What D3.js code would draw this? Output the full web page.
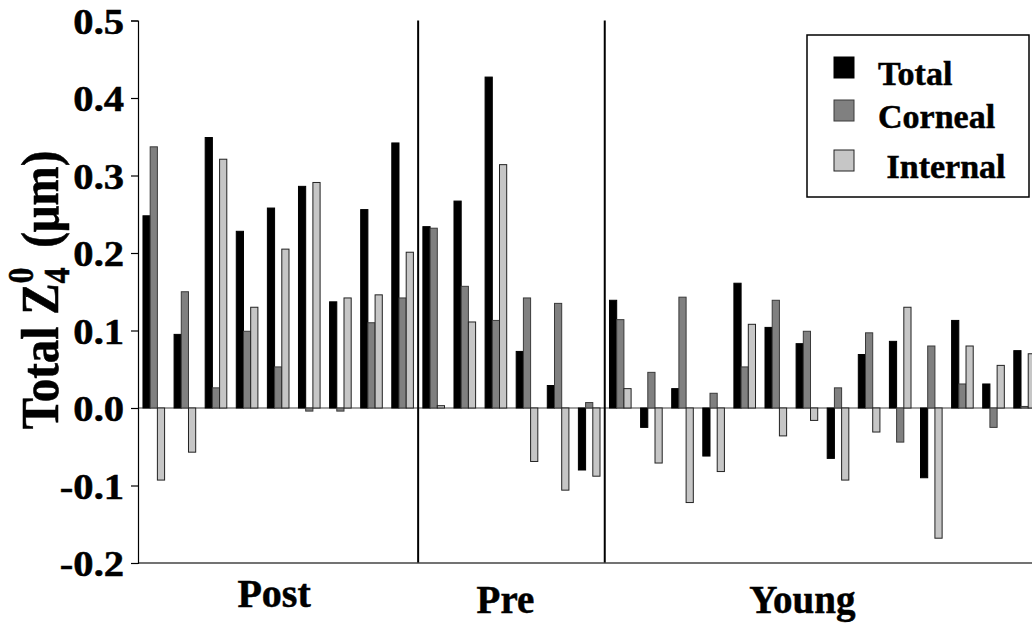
<!DOCTYPE html>
<html>
<head>
<meta charset="utf-8">
<script src="https://cdn.jsdelivr.net/npm/d3@7.9.0/dist/d3.min.js"></script>
<style>
  body { margin: 0; background: #fff; }
  text { font-family: "Liberation Serif", "Times New Roman", serif; font-weight: bold; fill: #000; stroke: #000; stroke-width: 0.5px; }
</style>
</head>
<body>
<div id="chart"></div>
<script>
// groups per subject set (Post: 9, Pre: 6, Young: 14)
const sections = ["Post", "Pre", "Young"];
const sectionSizes = [9, 6, 14];
const series = ["Total", "Corneal", "Internal"];
const yTicks = [-0.2, -0.1, 0.0, 0.1, 0.2, 0.3, 0.4, 0.5];

const totalVals = [
  0.248, 0.095, 0.349, 0.228, 0.258, 0.286, 0.137, 0.256, 0.342,
  0.234, 0.267, 0.427, 0.073, 0.029, -0.080,
  0.139, -0.025, 0.025, -0.062, 0.161, 0.104, 0.083, -0.065, 0.069, 0.086, -0.090, 0.113, 0.031, 0.074
];
const cornealVals = [
  0.337, 0.150, 0.026, 0.099, 0.053, -0.004, -0.004, 0.110, 0.142,
  0.232, 0.157, 0.113, 0.142, 0.135, 0.007,
  0.114, 0.046, 0.143, 0.019, 0.053, 0.139, 0.099, 0.026, 0.097, -0.044, 0.080, 0.031, -0.025, 0.002
];
const internalVals = [
  -0.093, -0.057, 0.321, 0.130, 0.205, 0.291, 0.142, 0.146, 0.201,
  0.003, 0.111, 0.314, -0.069, -0.106, -0.088,
  0.025, -0.071, -0.122, -0.082, 0.108, -0.036, -0.016, -0.093, -0.031, 0.130, -0.168, 0.080, 0.055, 0.070
];

const W = 1032, H = 624;
const svg = d3.select("#chart").append("svg")
  .attr("width", W)
  .attr("height", H);

svg.append("rect").attr("width", W).attr("height", H).attr("fill", "#fff");

const nGroups = totalVals.length;
const groupIdx = d3.range(nGroups);

const x = d3.scaleBand()
  .domain(groupIdx)
  .range([138, 1040.4])
  .paddingInner(0.305)
  .paddingOuter(0.16);

const xs = d3.scaleBand()
  .domain(series)
  .range([0, x.bandwidth()]);

const y = d3.scaleLinear()
  .domain([-0.2, 0.5])
  .range([563, 20.5]);

const color = d3.scaleOrdinal()
  .domain(series)
  .range(["#000000", "#808080", "#c6c6c6"]);
const strokeCol = d3.scaleOrdinal()
  .domain(series)
  .range(["#000000", "#3a3a3a", "#222222"]);

const rows = groupIdx.map(i => ({
  i,
  vals: [
    { s: "Total", v: totalVals[i] },
    { s: "Corneal", v: cornealVals[i] },
    { s: "Internal", v: internalVals[i] }
  ]
}));

// zero line
svg.append("line")
  .attr("x1", 138).attr("x2", W)
  .attr("y1", y(0)).attr("y2", y(0))
  .attr("stroke", "#808080")
  .attr("stroke-width", 1.5);

// bars
const g = svg.selectAll(".grp")
  .data(rows)
  .enter().append("g")
    .attr("class", "grp")
    .attr("transform", d => `translate(${x(d.i)},0)`);

g.selectAll("rect")
  .data(d => d.vals)
  .enter().append("rect")
    .attr("x", d => xs(d.s))
    .attr("width", xs.bandwidth())
    .attr("y", d => y(Math.max(0, d.v)))
    .attr("height", d => Math.abs(y(d.v) - y(0)))
    .attr("fill", d => color(d.s))
    .attr("stroke", d => strokeCol(d.s))
    .attr("stroke-width", 1);

// section dividers
let start = 0;
const gap = x.step() - x.bandwidth();
const bounds = [];
sectionSizes.forEach((n, k) => {
  const left = k === 0 ? 138 : x(start) - gap / 2;
  const end = start + n;
  const right = end < nGroups ? x(end) - gap / 2 : 1040;
  bounds.push([left, right]);
  if (k > 0) {
    svg.append("line")
      .attr("x1", left).attr("x2", left)
      .attr("y1", y(0.5)).attr("y2", y(-0.2))
      .attr("stroke", "#000")
      .attr("stroke-width", 2);
  }
  start = end;
});

// bottom axis line
svg.append("line")
  .attr("x1", 138).attr("x2", W)
  .attr("y1", y(-0.2)).attr("y2", y(-0.2))
  .attr("stroke", "#444")
  .attr("stroke-width", 1.5);

// y axis
const yAxis = svg.append("g")
  .attr("transform", "translate(138,0)")
  .call(d3.axisLeft(y)
    .tickValues(yTicks)
    .tickFormat(d => d.toFixed(1))
    .tickSize(7)
    .tickPadding(5));
yAxis.select(".domain").attr("stroke", "#000").attr("stroke-width", 1.2);
yAxis.selectAll(".tick line").attr("stroke", "#000").attr("stroke-width", 1.2);
yAxis.selectAll("text")
  .attr("fill", "#000")
  .attr("dy", "0.36em")
  .attr("transform", "scale(1.16,1)")
  .style("font-size", "35px")
  .style("font-family", "'Liberation Serif', serif")
  .style("font-weight", "bold");

// section labels
const labelDx = [-4, -6, -20];
const labelY = [607, 613, 613];
const labelSize = [40, 39, 39];
sections.forEach((s, k) => {
  svg.append("text")
    .attr("x", (bounds[k][0] + bounds[k][1]) / 2 + labelDx[k])
    .attr("y", labelY[k])
    .attr("text-anchor", "middle")
    .style("font-size", labelSize[k] + "px")
    .text(s);
});

// y axis title
const yt = svg.append("text")
  .attr("transform", "translate(58,290) scale(1.14,1) rotate(-90)")
  .attr("text-anchor", "middle")
  .style("font-size", "47px");
yt.append("tspan").text("Total Z");
yt.append("tspan").attr("dy", 10).style("font-size", "32px").text("4");
yt.append("tspan").attr("dx", -16).attr("dy", -32).style("font-size", "32px").text("0");
yt.append("tspan").attr("dx", 8).attr("dy", 22).text(" (μm)");

// legend
const legend = svg.append("g");
legend.append("rect")
  .attr("x", 807).attr("y", 35)
  .attr("width", 222).attr("height", 162)
  .attr("fill", "#fff")
  .attr("stroke", "#000")
  .attr("stroke-width", 1.5);

const legY = [67, 110, 160];
const legLabels = ["Total", "Corneal", " Internal"];
series.forEach((s, k) => {
  legend.append("rect")
    .attr("x", 834).attr("y", legY[k] - 10)
    .attr("width", 20).attr("height", 21)
    .attr("fill", color(s))
    .attr("stroke", strokeCol(s))
    .attr("stroke-width", 1);
  legend.append("text")
    .attr("x", 878).attr("y", legY[k] + 18)
    .attr("xml:space", "preserve")
    .style("white-space", "pre")
    .style("font-size", "34px")
    .text(legLabels[k]);
});
</script>
</body>
</html>
